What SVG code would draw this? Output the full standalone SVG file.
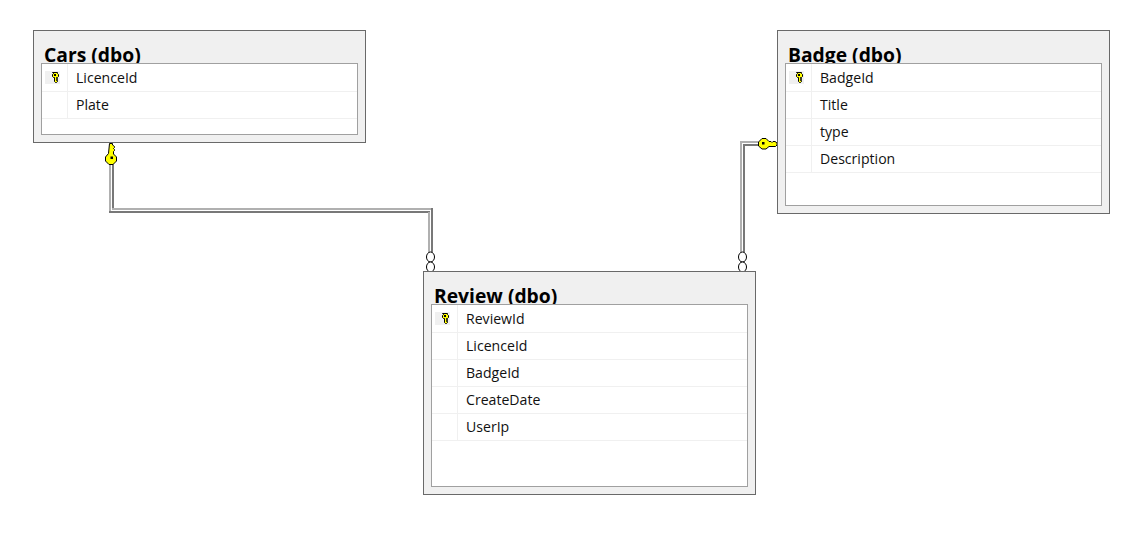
<svg xmlns="http://www.w3.org/2000/svg" width="1137" height="544" viewBox="0 0 1137 544">
<style>
.bg{fill:#fff}
.outer{fill:#f0f0f0;stroke:#696969;stroke-width:1}
.inner{fill:#fff;stroke:#a0a0a0;stroke-width:1}
.row{fill:none;stroke:#f0f0f0;stroke-width:1}
.title{font-family:"Open Sans","Noto Sans",sans-serif;font-weight:700;font-size:19.300px;fill:#000}
.col{font-family:"Open Sans","Noto Sans",sans-serif;font-size:14.100px;fill:#111}
.lt{fill:none;stroke:#b0b0b0;stroke-width:2}
.dk{fill:none;stroke:#787878;stroke-width:2}
.ring{fill:#fff;stroke:#000;stroke-width:1}
.key{fill:#ffff00;stroke:#000;stroke-width:1}
.pk{fill:#f0f0f0}
</style>
<defs>
<g id="pkey">
<rect class="pk" x="0" y="0" width="15" height="13"/>
<path d="M7.500 1.500h5v1l1 1v2l-1 1h-1v1h1v1h-1v1h1v1l-1 1h-1l-1-1v-4h-1l-1-1v-2l1-1z" fill="#ffff00" stroke="#000" stroke-width="1"/>
<rect x="9" y="3" width="2" height="2" fill="#000"/>
</g>
</defs>
<rect class="bg" width="1137" height="544"/>
<g id="connectors">
<g id="cars-review">
<path class="lt" d="M110 163V211"/>
<path class="dk" d="M113 163V208"/>
<path class="lt" d="M112 209H431"/>
<path class="dk" d="M109 212H430"/>
<path class="lt" d="M429 212V252"/>
<path class="dk" d="M432 208V252"/>
<ellipse class="ring" cx="430.500" cy="257" rx="4" ry="5"/>
<ellipse class="ring" cx="430.500" cy="267" rx="4" ry="5"/>
<path class="key" d="M109.500 143.500h3v1.500l2 1.500v1l-1 1 1 1v1l-1 1v2.500l3 3v4l-3.500 3.500h-4l-3.500-3.500v-4l3-3.500z"/>
<rect x="110.500" y="156.500" width="2.500" height="2.500" fill="#000"/>
</g>
<g id="badge-review">
<path class="lt" d="M741 252V142H758"/>
<path class="dk" d="M744 252V145H758"/>
<ellipse class="ring" cx="742.500" cy="257" rx="4" ry="5"/>
<ellipse class="ring" cx="742.500" cy="267" rx="4" ry="5"/>
<path class="key" d="M777 142v3l-1.500 1.500h-6.500l-3 2.500h-4l-3.500-3v-4l3.500-3.500h4l3 3h2l1 1 1-1h2l1.500 1z"/>
<rect x="762" y="142" width="2.500" height="2.500" fill="#000"/>
</g>
</g>
<g id="cars">
<rect class="outer" x="33.500" y="30.500" width="332" height="112"/>
<text class="title" x="44" y="62">Cars (dbo)</text>
<rect class="inner" x="41.500" y="63.500" width="316" height="71"/>
<path class="row" d="M42 91.500H357M42 118.500H357M67.500 64V118"/>
<use href="#pkey" x="45" y="71"/>
<text class="col" x="76" y="83">LicenceId</text>
<text class="col" x="76" y="110">Plate</text>
</g>
<g id="badge">
<rect class="outer" x="777.500" y="30.500" width="332" height="183"/>
<text class="title" x="788" y="62">Badge (dbo)</text>
<rect class="inner" x="785.500" y="63.500" width="316" height="142"/>
<path class="row" d="M786 91.500H1101M786 118.500H1101M786 145.500H1101M786 172.500H1101M811.500 64V172"/>
<use href="#pkey" x="789" y="71"/>
<text class="col" x="820" y="83">BadgeId</text>
<text class="col" x="820" y="110">Title</text>
<text class="col" x="820" y="137">type</text>
<text class="col" x="820" y="164">Description</text>
</g>
<g id="review">
<rect class="outer" x="423.500" y="271.500" width="332" height="223"/>
<text class="title" x="434" y="303">Review (dbo)</text>
<rect class="inner" x="431.500" y="304.500" width="316" height="182"/>
<path class="row" d="M432 332.500H747M432 359.500H747M432 386.500H747M432 413.500H747M432 440.500H747M457.500 305V440"/>
<use href="#pkey" x="435" y="312"/>
<text class="col" x="466" y="324">ReviewId</text>
<text class="col" x="466" y="351">LicenceId</text>
<text class="col" x="466" y="378">BadgeId</text>
<text class="col" x="466" y="405">CreateDate</text>
<text class="col" x="466" y="432">UserIp</text>
</g>
</svg>
